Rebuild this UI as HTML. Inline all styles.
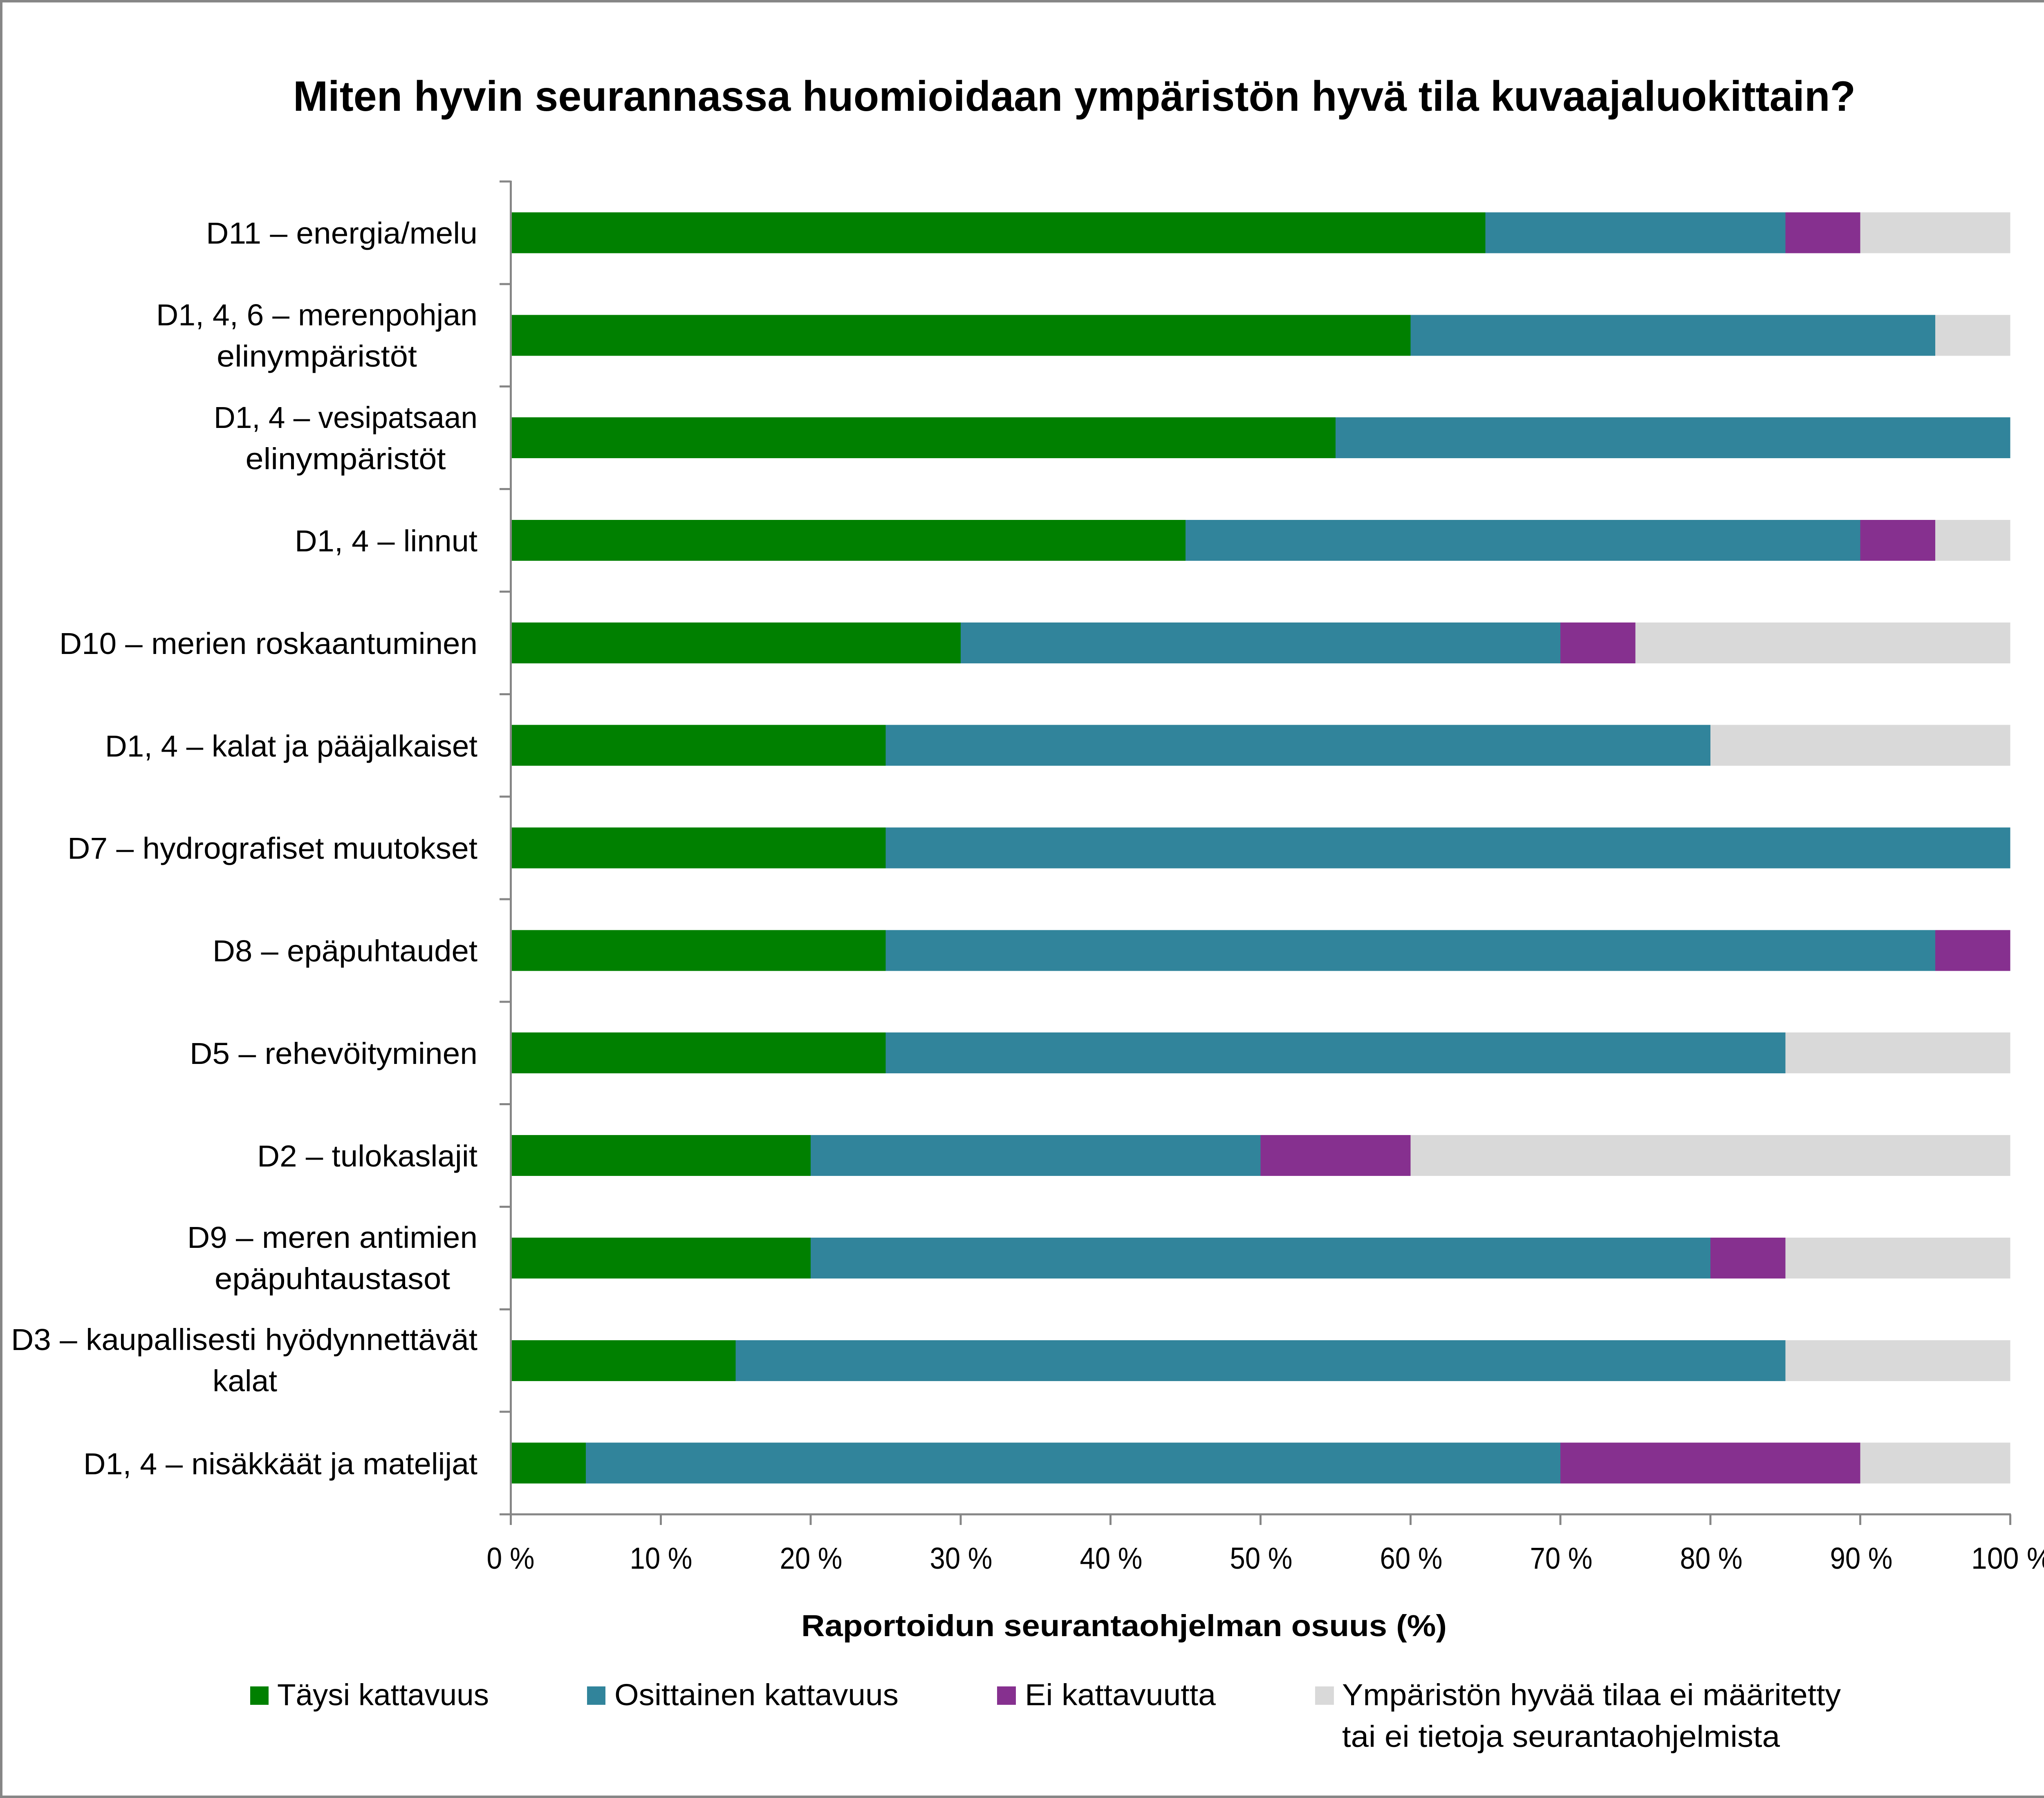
<!DOCTYPE html>
<html>
<head>
<meta charset="utf-8">
<style>
html,body{margin:0;padding:0;background:#fff;}
svg{display:block;}
text{font-family:"Liberation Sans", sans-serif; fill:#000;}
</style>
</head>
<body>
<svg xmlns="http://www.w3.org/2000/svg" width="5157" height="4399" viewBox="0 0 5157 4399">
  <rect x="0" y="0" width="5157" height="4399" fill="#ffffff"/>
  <rect x="3" y="3" width="5151" height="4393" fill="none" stroke="#868686" stroke-width="6"/>

  <!-- Title -->
  <text x="717" y="271" font-size="104" font-weight="bold" textLength="3822" lengthAdjust="spacingAndGlyphs">Miten hyvin seurannassa huomioidaan ympäristön hyvä tila kuvaajaluokittain?</text>

  <!-- Bars (x in percent units) -->
  <g transform="translate(1249.5,0) scale(36.68,1)" shape-rendering="crispEdges">
    <!-- k0 D11 -->
    <rect x="0" y="519.4" width="65" height="100" fill="#008000"/>
    <rect x="65" y="519.4" width="20" height="100" fill="#31849B"/>
    <rect x="85" y="519.4" width="5" height="100" fill="#86308F"/>
    <rect x="90" y="519.4" width="10" height="100" fill="#D9D9D9"/>
    <!-- k1 -->
    <rect x="0" y="770.3" width="60" height="100" fill="#008000"/>
    <rect x="60" y="770.3" width="35" height="100" fill="#31849B"/>
    <rect x="95" y="770.3" width="5" height="100" fill="#D9D9D9"/>
    <!-- k2 -->
    <rect x="0" y="1021.1" width="55" height="100" fill="#008000"/>
    <rect x="55" y="1021.1" width="45" height="100" fill="#31849B"/>
    <!-- k3 -->
    <rect x="0" y="1272" width="45" height="100" fill="#008000"/>
    <rect x="45" y="1272" width="45" height="100" fill="#31849B"/>
    <rect x="90" y="1272" width="5" height="100" fill="#86308F"/>
    <rect x="95" y="1272" width="5" height="100" fill="#D9D9D9"/>
    <!-- k4 -->
    <rect x="0" y="1522.8" width="30" height="100" fill="#008000"/>
    <rect x="30" y="1522.8" width="40" height="100" fill="#31849B"/>
    <rect x="70" y="1522.8" width="5" height="100" fill="#86308F"/>
    <rect x="75" y="1522.8" width="25" height="100" fill="#D9D9D9"/>
    <!-- k5 -->
    <rect x="0" y="1773.7" width="25" height="100" fill="#008000"/>
    <rect x="25" y="1773.7" width="55" height="100" fill="#31849B"/>
    <rect x="80" y="1773.7" width="20" height="100" fill="#D9D9D9"/>
    <!-- k6 -->
    <rect x="0" y="2024.5" width="25" height="100" fill="#008000"/>
    <rect x="25" y="2024.5" width="75" height="100" fill="#31849B"/>
    <!-- k7 -->
    <rect x="0" y="2275.4" width="25" height="100" fill="#008000"/>
    <rect x="25" y="2275.4" width="70" height="100" fill="#31849B"/>
    <rect x="95" y="2275.4" width="5" height="100" fill="#86308F"/>
    <!-- k8 -->
    <rect x="0" y="2526.2" width="25" height="100" fill="#008000"/>
    <rect x="25" y="2526.2" width="60" height="100" fill="#31849B"/>
    <rect x="85" y="2526.2" width="15" height="100" fill="#D9D9D9"/>
    <!-- k9 -->
    <rect x="0" y="2777.1" width="20" height="100" fill="#008000"/>
    <rect x="20" y="2777.1" width="30" height="100" fill="#31849B"/>
    <rect x="50" y="2777.1" width="10" height="100" fill="#86308F"/>
    <rect x="60" y="2777.1" width="40" height="100" fill="#D9D9D9"/>
    <!-- k10 -->
    <rect x="0" y="3027.9" width="20" height="100" fill="#008000"/>
    <rect x="20" y="3027.9" width="60" height="100" fill="#31849B"/>
    <rect x="80" y="3027.9" width="5" height="100" fill="#86308F"/>
    <rect x="85" y="3027.9" width="15" height="100" fill="#D9D9D9"/>
    <!-- k11 -->
    <rect x="0" y="3278.8" width="15" height="100" fill="#008000"/>
    <rect x="15" y="3278.8" width="70" height="100" fill="#31849B"/>
    <rect x="85" y="3278.8" width="15" height="100" fill="#D9D9D9"/>
    <!-- k12 -->
    <rect x="0" y="3529.6" width="5" height="100" fill="#008000"/>
    <rect x="5" y="3529.6" width="65" height="100" fill="#31849B"/>
    <rect x="70" y="3529.6" width="20" height="100" fill="#86308F"/>
    <rect x="90" y="3529.6" width="10" height="100" fill="#D9D9D9"/>
  </g>

  <!-- Axes -->
  <g stroke="#868686" stroke-width="5" fill="none" shape-rendering="crispEdges">
    <line x1="1249.5" y1="442" x2="1249.5" y2="3731"/>
    <line x1="1222" y1="3705" x2="4919" y2="3705"/>
    <!-- category ticks -->
    <line x1="1222" y1="444" x2="1249" y2="444"/>
    <line x1="1222" y1="694.9" x2="1249" y2="694.9"/>
    <line x1="1222" y1="945.7" x2="1249" y2="945.7"/>
    <line x1="1222" y1="1196.6" x2="1249" y2="1196.6"/>
    <line x1="1222" y1="1447.4" x2="1249" y2="1447.4"/>
    <line x1="1222" y1="1698.3" x2="1249" y2="1698.3"/>
    <line x1="1222" y1="1949.1" x2="1249" y2="1949.1"/>
    <line x1="1222" y1="2200" x2="1249" y2="2200"/>
    <line x1="1222" y1="2450.8" x2="1249" y2="2450.8"/>
    <line x1="1222" y1="2701.7" x2="1249" y2="2701.7"/>
    <line x1="1222" y1="2952.5" x2="1249" y2="2952.5"/>
    <line x1="1222" y1="3203.4" x2="1249" y2="3203.4"/>
    <line x1="1222" y1="3454.2" x2="1249" y2="3454.2"/>
    <!-- x ticks -->
    <line x1="1616.3" y1="3705" x2="1616.3" y2="3731"/>
    <line x1="1983.1" y1="3705" x2="1983.1" y2="3731"/>
    <line x1="2349.9" y1="3705" x2="2349.9" y2="3731"/>
    <line x1="2716.7" y1="3705" x2="2716.7" y2="3731"/>
    <line x1="3083.5" y1="3705" x2="3083.5" y2="3731"/>
    <line x1="3450.3" y1="3705" x2="3450.3" y2="3731"/>
    <line x1="3817.1" y1="3705" x2="3817.1" y2="3731"/>
    <line x1="4183.9" y1="3705" x2="4183.9" y2="3731"/>
    <line x1="4550.7" y1="3705" x2="4550.7" y2="3731"/>
    <line x1="4917.5" y1="3705" x2="4917.5" y2="3731"/>
  </g>

  <!-- X tick labels -->
  <g font-size="74" text-anchor="middle">
    <text x="1249" y="3838" textLength="117" lengthAdjust="spacingAndGlyphs">0 %</text>
    <text x="1617" y="3838" textLength="153" lengthAdjust="spacingAndGlyphs">10 %</text>
    <text x="1984" y="3838" textLength="153" lengthAdjust="spacingAndGlyphs">20 %</text>
    <text x="2351" y="3838" textLength="153" lengthAdjust="spacingAndGlyphs">30 %</text>
    <text x="2718" y="3838" textLength="153" lengthAdjust="spacingAndGlyphs">40 %</text>
    <text x="3085" y="3838" textLength="153" lengthAdjust="spacingAndGlyphs">50 %</text>
    <text x="3452" y="3838" textLength="153" lengthAdjust="spacingAndGlyphs">60 %</text>
    <text x="3819" y="3838" textLength="153" lengthAdjust="spacingAndGlyphs">70 %</text>
    <text x="4186" y="3838" textLength="153" lengthAdjust="spacingAndGlyphs">80 %</text>
    <text x="4553" y="3838" textLength="153" lengthAdjust="spacingAndGlyphs">90 %</text>
    <text x="4921" y="3838" textLength="198" lengthAdjust="spacingAndGlyphs">100 %</text>
  </g>

  <!-- Axis title -->
  <text x="1960" y="4003" font-size="74" font-weight="bold" textLength="1579" lengthAdjust="spacingAndGlyphs">Raportoidun seurantaohjelman osuus (%)</text>

  <!-- Category labels -->
  <g font-size="74">
    <text x="1168" y="596" text-anchor="end" textLength="664" lengthAdjust="spacingAndGlyphs">D11 – energia/melu</text>

    <text x="1168" y="796" text-anchor="end" textLength="786" lengthAdjust="spacingAndGlyphs">D1, 4, 6 – merenpohjan</text>
    <text x="775" y="897" text-anchor="middle" textLength="490" lengthAdjust="spacingAndGlyphs">elinympäristöt</text>

    <text x="1168" y="1047" text-anchor="end" textLength="645" lengthAdjust="spacingAndGlyphs">D1, 4 – vesipatsaan</text>
    <text x="845.5" y="1148" text-anchor="middle" textLength="490" lengthAdjust="spacingAndGlyphs">elinympäristöt</text>

    <text x="1168" y="1349" text-anchor="end" textLength="447" lengthAdjust="spacingAndGlyphs">D1, 4 – linnut</text>

    <text x="1168" y="1600" text-anchor="end" textLength="1023" lengthAdjust="spacingAndGlyphs">D10 – merien roskaantuminen</text>

    <text x="1168" y="1851" text-anchor="end" textLength="911" lengthAdjust="spacingAndGlyphs">D1, 4 – kalat ja pääjalkaiset</text>

    <text x="1168" y="2101" text-anchor="end" textLength="1003" lengthAdjust="spacingAndGlyphs">D7 – hydrografiset muutokset</text>

    <text x="1168" y="2352" text-anchor="end" textLength="648" lengthAdjust="spacingAndGlyphs">D8 – epäpuhtaudet</text>

    <text x="1168" y="2603" text-anchor="end" textLength="704" lengthAdjust="spacingAndGlyphs">D5 – rehevöityminen</text>

    <text x="1168" y="2854" text-anchor="end" textLength="539" lengthAdjust="spacingAndGlyphs">D2 – tulokaslajit</text>

    <text x="1168" y="3053" text-anchor="end" textLength="710" lengthAdjust="spacingAndGlyphs">D9 – meren antimien</text>
    <text x="813" y="3154" text-anchor="middle" textLength="576" lengthAdjust="spacingAndGlyphs">epäpuhtaustasot</text>

    <text x="1168" y="3303" text-anchor="end" textLength="1141" lengthAdjust="spacingAndGlyphs">D3 – kaupallisesti hyödynnettävät</text>
    <text x="599" y="3404" text-anchor="middle" textLength="158" lengthAdjust="spacingAndGlyphs">kalat</text>

    <text x="1168" y="3607" text-anchor="end" textLength="964" lengthAdjust="spacingAndGlyphs">D1, 4 – nisäkkäät ja matelijat</text>
  </g>

  <!-- Legend -->
  <rect x="612" y="4126" width="45" height="45" fill="#008000"/>
  <text x="678" y="4172" font-size="74" textLength="518" lengthAdjust="spacingAndGlyphs">Täysi kattavuus</text>

  <rect x="1436" y="4126" width="45" height="45" fill="#31849B"/>
  <text x="1503" y="4172" font-size="74" textLength="695" lengthAdjust="spacingAndGlyphs">Osittainen kattavuus</text>

  <rect x="2439" y="4126" width="46" height="45" fill="#86308F"/>
  <text x="2507" y="4172" font-size="74" textLength="467" lengthAdjust="spacingAndGlyphs">Ei kattavuutta</text>

  <rect x="3217" y="4126" width="46" height="45" fill="#D9D9D9"/>
  <text x="3283" y="4172" font-size="74" textLength="1220" lengthAdjust="spacingAndGlyphs">Ympäristön hyvää tilaa ei määritetty</text>
  <text x="3283" y="4274" font-size="74" textLength="1071" lengthAdjust="spacingAndGlyphs">tai ei tietoja seurantaohjelmista</text>
</svg>
</body>
</html>
